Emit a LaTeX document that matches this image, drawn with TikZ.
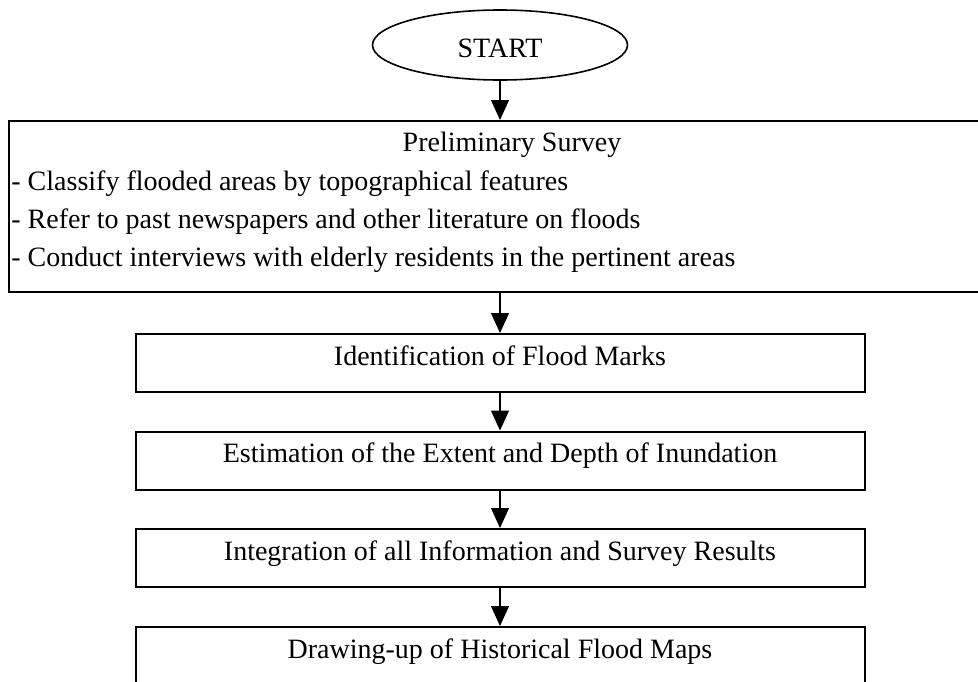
\documentclass[tikz,border=0pt]{standalone}
\usepackage{fontspec}
\setmainfont{Liberation Serif}
\usetikzlibrary{shapes.geometric,arrows.meta}

\begin{document}
\begin{tikzpicture}[x=0.5pt, y=-0.5pt,
	every node/.style={font=\fontsize{14}{17}\selectfont},
	stepbox/.style={draw, line width=1pt, inner sep=0pt, minimum width=364.5pt, minimum height=29pt, text height=10pt, text depth=8pt},
	flow/.style={-{Triangle[width=9pt,length=10pt]}, line width=0.6pt}]

	\useasboundingbox (0,0) rectangle (978,681);

		\node[draw, ellipse, line width=0.8pt, inner sep=0pt, minimum width=127.5pt, minimum height=35pt, text height=12pt, text depth=0pt] (start) at (500,45) {START};

		% preliminary survey box and its lines
		\node[draw, line width=1pt, minimum width=503pt, minimum height=85.5pt] (survey) at (512,206.5) {};
		\node[anchor=base] (surveytitle) at (512,151) {Preliminary Survey};
		\node[anchor=base west, inner xsep=1pt] (survey1) at (9,190) {- Classify flooded areas by topographical features};
		\node[anchor=base west, inner xsep=1pt] (survey2) at (9,228) {- Refer to past newspapers and other literature on floods};
		\node[anchor=base west, inner xsep=1pt] (survey3) at (9,266) {- Conduct interviews with elderly residents in the pertinent areas};

		\node[stepbox] (marks) at (500,363) {Identification of Flood Marks};
		\node[stepbox] (extent) at (500,460.5) {Estimation of the Extent and Depth of Inundation};
		\node[stepbox] (results) at (500,558) {Integration of all Information and Survey Results};
		\node[stepbox] (maps) at (500,656) {Drawing-up of Historical Flood Maps};

		\draw[flow] (start) -- (start |- survey.north);
		\draw[flow] (marks |- survey.south) -- (marks);
		\draw[flow] (marks) -- (extent);
		\draw[flow] (extent) -- (results);
		\draw[flow] (results) -- (maps);

\end{tikzpicture}
\end{document}
